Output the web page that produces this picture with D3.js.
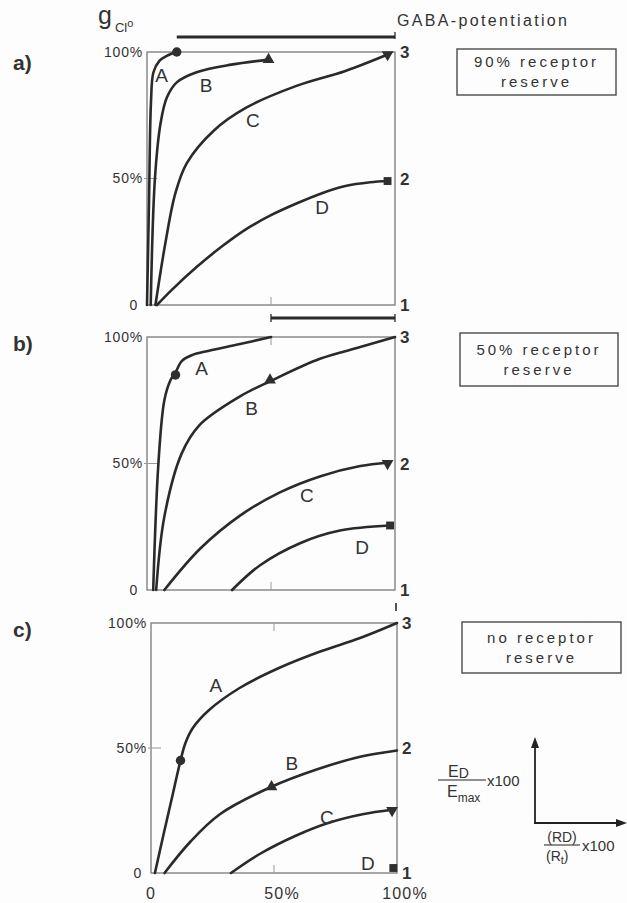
<!DOCTYPE html>
<html>
<head>
<meta charset="utf-8">
<script src="https://cdn.jsdelivr.net/npm/d3@7"></script>
<style>
  body { margin: 0; background: #fdfdfd; }
  text { font-family: "Liberation Sans", Arial, sans-serif; fill: #333; }
</style>
</head>
<body>
<svg id="chart"></svg>
<script>
// x = (RD)/(Rt) x100 , y = ED/Emax x100
var aCurveA = [[0, 0], [0.8, 40], [1.6, 80], [2.6, 92], [5, 96.5], [8, 98.5], [12, 100]];
var aCurveB = [[1.5, 0], [3.2, 50], [5.5, 72], [8, 82], [12, 88], [20, 92], [34, 95], [49, 97]];
var aCurveC = [[3.4, 0], [7.5, 25], [11.4, 44], [16, 56], [27, 69], [40, 78], [60, 86.5], [80, 92.5], [97, 99]];
var aCurveD = [[4, 0], [10, 6], [20, 15], [30, 23], [40, 30], [50, 35.5], [60, 40], [70, 44], [80, 47], [90, 48.5], [97, 49]];
var aMarkers = [[12, 100], [49, 97], [97, 99], [97, 49]];

var bCurveA = [[2.5, 0], [4.6, 50], [7, 75], [9.5, 83], [11.5, 86], [14, 90.5], [18, 92.8], [25, 94.6], [37.5, 97.2], [50, 100]];
var bCurveB = [[3.7, 0], [7, 29], [14, 54], [21, 65], [37.5, 76.5], [49.6, 82.5], [70, 91.5], [86, 96], [100, 100]];
var bCurveC = [[7, 0], [21.4, 16.3], [37.5, 29.4], [53.6, 38.6], [70, 45], [86, 49], [97, 50.3]];
var bCurveD = [[34.3, 0], [45.6, 9.8], [61.7, 18.5], [77.8, 23.5], [98, 25.5]];
var bMarkers = [[11.5, 85], [49.6, 83], [97, 50], [98, 25.5]];

var cCurveA = [[1.6, 0], [5, 15], [8.5, 30], [12, 45], [14, 52], [17, 58], [23.4, 65], [36, 74], [52, 82], [68.5, 88.5], [85, 94], [100, 100]];
var cCurveB = [[5.5, 0], [16, 12.5], [28, 23.5], [49, 34.5], [67, 41.3], [85, 46.5], [100, 49]];
var cCurveC = [[32.5, 0], [44, 7.5], [58.6, 14.8], [72, 20], [86, 23.5], [98, 25.3]];
var cMarkers = [[12, 45], [49, 34.5], [98, 25], [98.5, 2]];

var curveNames = ["A", "B", "C", "D"];
var aLabelPos = [[5.9, 91], [23.8, 87], [42.7, 73], [70.6, 38.7]];
var bLabelPos = [[22, 87.7], [42.2, 72], [64.5, 37.3], [86.7, 17.1]];
var cLabelPos = [[26.4, 75.2], [57.3, 44.1], [71.5, 22.5], [88.2, 4.1]];

var yTickLabels = ["0", "50%", "100%"];
var xTickLabels = ["0", "50%", "100%"];
var sideLabels = ["1", "2", "3"];
var boxTexts = [["90% receptor", "reserve"], ["50% receptor", "reserve"], ["no receptor", "reserve"]];

var width = 627, height = 903;

var svg = d3.select("#chart")
  .attr("width", width)
  .attr("height", height);

var panels = [
  { tag: "a)", left: 147, right: 395, top: 52, bottom: 305, curves: [aCurveA, aCurveB, aCurveC, aCurveD],
    markers: aMarkers, labels: aLabelPos, box: [457, 49, 159, 46], text: boxTexts[0], tickTop: false },
  { tag: "b)", left: 147, right: 395, top: 337, bottom: 590, curves: [bCurveA, bCurveB, bCurveC, bCurveD],
    markers: bMarkers, labels: bLabelPos, box: [460, 333, 158, 53], text: boxTexts[1], tickTop: true },
  { tag: "c)", left: 151, right: 397, top: 623, bottom: 873, curves: [cCurveA, cCurveB, cCurveC],
    markers: cMarkers, labels: cLabelPos, box: [462, 622, 159, 51], text: boxTexts[2], tickTop: true }
];

var symbols = [
  d3.symbol().type(d3.symbolCircle).size(70),
  d3.symbol().type(d3.symbolTriangle).size(60),
  d3.symbol().type(d3.symbolTriangle).size(60),
  d3.symbol().type(d3.symbolSquare).size(62)
];

panels.forEach(function (p, pi) {
  var x = d3.scaleLinear().domain([0, 100]).range([p.left, p.right]);
  var y = d3.scaleLinear().domain([0, 100]).range([p.bottom, p.top]);
  p.x = x; p.y = y;

  var g = svg.append("g");

  // frame
  g.append("rect")
    .attr("x", p.left).attr("y", p.top)
    .attr("width", p.right - p.left).attr("height", p.bottom - p.top)
    .attr("fill", "none")
    .attr("stroke", "#7a7a7a")
    .attr("stroke-width", 1.3);

  // 50% ticks
  g.append("line")
    .attr("x1", p.left - 3).attr("x2", p.left + 10)
    .attr("y1", y(50)).attr("y2", y(50))
    .attr("stroke", "#999").attr("stroke-width", 1);
  g.append("line")
    .attr("x1", x(50)).attr("x2", x(50))
    .attr("y1", p.bottom).attr("y2", p.bottom - 8)
    .attr("stroke", "#999").attr("stroke-width", 1);
  if (p.tickTop) {
    g.append("line")
      .attr("x1", x(50)).attr("x2", x(50))
      .attr("y1", p.top).attr("y2", p.top + 8)
      .attr("stroke", "#999").attr("stroke-width", 1);
  }

  // y tick labels
  g.selectAll(".ylab")
    .data(yTickLabels)
    .enter()
    .append("text")
    .attr("x", function (d) { return d === "0" ? p.left - 9 : p.left - 4; })
    .attr("y", function (d, i) { return y(i * 50); })
    .attr("dy", "0.35em")
    .attr("text-anchor", "end")
    .attr("font-size", 14)
    .attr("letter-spacing", 0.8)
    .text(function (d) { return d; });

  // 1 2 3 on the right
  g.selectAll(".side")
    .data(sideLabels)
    .enter()
    .append("text")
    .attr("x", p.right + 5)
    .attr("y", function (d, i) { return y(i * 50); })
    .attr("dy", "0.38em")
    .attr("font-size", 17)
    .attr("font-weight", "bold")
    .attr("fill", "#222")
    .text(function (d) { return d; });

  // panel tag
  g.append("text")
    .attr("x", 13)
    .attr("y", p.top + (pi === 0 ? 18 : 14))
    .attr("font-size", 21)
    .attr("font-weight", "bold")
    .attr("fill", "#222")
    .text(p.tag);

  // curves
  var line = d3.line()
    .x(function (d) { return x(d[0]); })
    .y(function (d) { return y(d[1]); })
    .curve(d3.curveCatmullRom.alpha(0.5));

  g.selectAll(".curve")
    .data(p.curves)
    .enter()
    .append("path")
    .attr("d", line)
    .attr("fill", "none")
    .attr("stroke", "#2a2a2a")
    .attr("stroke-width", 2.6)
    .attr("stroke-linecap", "round");

  // markers
  g.selectAll(".mark")
    .data(p.markers)
    .enter()
    .append("path")
    .attr("d", function (d, i) { return symbols[i](); })
    .attr("transform", function (d, i) {
      return "translate(" + x(d[0]) + "," + y(d[1]) + ")" + (i === 2 ? " rotate(180)" : "");
    })
    .attr("fill", "#2f2f2f");

  // curve letters
  g.selectAll(".clab")
    .data(p.labels)
    .enter()
    .append("text")
    .attr("x", function (d) { return x(d[0]); })
    .attr("y", function (d) { return y(d[1]); })
    .attr("dy", "0.36em")
    .attr("text-anchor", "middle")
    .attr("font-size", 19)
    .attr("fill", "#3a3a3a")
    .text(function (d, i) { return curveNames[i]; });

  // box
  g.append("rect")
    .attr("x", p.box[0]).attr("y", p.box[1])
    .attr("width", p.box[2]).attr("height", p.box[3])
    .attr("fill", "none")
    .attr("stroke", "#555")
    .attr("stroke-width", 1.5);
  g.selectAll(".btxt")
    .data(p.text)
    .enter()
    .append("text")
    .attr("x", p.box[0] + p.box[2] / 2)
    .attr("y", function (d, i) { return p.box[1] + p.box[3] / 2 + (i === 0 ? -5 : 15); })
    .attr("text-anchor", "middle")
    .attr("font-size", 15)
    .attr("letter-spacing", 3)
    .attr("fill", "#222")
    .text(function (d) { return d; });
});

// x tick labels under panel c
var pc = panels[2];
svg.selectAll(".xlab")
  .data(xTickLabels)
  .enter()
  .append("text")
  .attr("x", function (d, i) { return pc.x(i * 50) + (i === 0 ? 0 : 8); })
  .attr("y", 899)
  .attr("text-anchor", "middle")
  .attr("font-size", 16)
  .attr("letter-spacing", 1.2)
  .text(function (d) { return d; });

// GABA-potentiation bars
var pa = panels[0], pb = panels[1];
var barA = svg.append("g").attr("stroke", "#2a2a2a");
barA.append("line")
  .attr("x1", pa.x(aMarkers[0][0])).attr("x2", pa.x(100))
  .attr("y1", 37).attr("y2", 37)
  .attr("stroke-width", 3);
barA.append("line")
  .attr("x1", pa.x(100)).attr("x2", pa.x(100))
  .attr("y1", 32).attr("y2", 39)
  .attr("stroke-width", 1.3);

var barB = svg.append("g").attr("stroke", "#2a2a2a");
barB.append("line")
  .attr("x1", pb.x(50)).attr("x2", pb.x(100))
  .attr("y1", 318).attr("y2", 318)
  .attr("stroke-width", 3);
barB.selectAll(".end")
  .data([50, 100])
  .enter()
  .append("line")
  .attr("x1", function (d) { return pb.x(d); }).attr("x2", function (d) { return pb.x(d); })
  .attr("y1", 314).attr("y2", 322)
  .attr("stroke-width", 1.3);

svg.append("line")
  .attr("x1", pc.x(100) - 1).attr("x2", pc.x(100) - 1)
  .attr("y1", 603).attr("y2", 611)
  .attr("stroke", "#2a2a2a")
  .attr("stroke-width", 1.6);

svg.append("text")
  .attr("x", 397).attr("y", 26)
  .attr("font-size", 16)
  .attr("textLength", 170)
  .attr("lengthAdjust", "spacing")
  .text("GABA-potentiation");

// g Cl°
var gcl = svg.append("text").attr("x", 98).attr("y", 24);
gcl.append("tspan").attr("font-size", 25).text("g");
gcl.append("tspan").attr("font-size", 13).attr("dx", 3).attr("dy", 8).text("Cl");
gcl.append("tspan").attr("font-size", 11).attr("dy", -5).text("o");

// axis key bottom right
var key = svg.append("g");
key.append("line").attr("x1", 535).attr("x2", 535).attr("y1", 746).attr("y2", 823)
  .attr("stroke", "#222").attr("stroke-width", 1.8);
key.append("line").attr("x1", 534).attr("x2", 618).attr("y1", 823).attr("y2", 823)
  .attr("stroke", "#222").attr("stroke-width", 1.8);
key.append("path").attr("d", "M535,737 L531,748 L539,748 Z").attr("fill", "#222");
key.append("path").attr("d", "M627,823 L616,819 L616,827 Z").attr("fill", "#222");

key.append("line").attr("x1", 438).attr("x2", 486).attr("y1", 780).attr("y2", 780)
  .attr("stroke", "#222").attr("stroke-width", 1.2);
var ed = key.append("text").attr("x", 448).attr("y", 777).attr("font-size", 16);
ed.append("tspan").text("E");
ed.append("tspan").attr("font-size", 14).attr("dy", 1).text("D");
var em = key.append("text").attr("x", 447).attr("y", 797).attr("font-size", 16);
em.append("tspan").text("E");
em.append("tspan").attr("font-size", 12).attr("dy", 5).text("max");
key.append("text").attr("x", 487).attr("y", 786).attr("font-size", 15).text("x100");

key.append("line").attr("x1", 544).attr("x2", 580).attr("y1", 845).attr("y2", 845)
  .attr("stroke", "#222").attr("stroke-width", 1.2);
key.append("text").attr("x", 562).attr("y", 842).attr("text-anchor", "middle").attr("font-size", 14).text("(RD)");
var rt = key.append("text").attr("x", 546).attr("y", 861).attr("font-size", 14);
rt.append("tspan").text("(R");
rt.append("tspan").attr("font-size", 11).attr("dy", 3).text("t");
rt.append("tspan").attr("dy", -3).text(")");
key.append("text").attr("x", 582).attr("y", 851).attr("font-size", 15).text("x100");
</script>
</body>
</html>
